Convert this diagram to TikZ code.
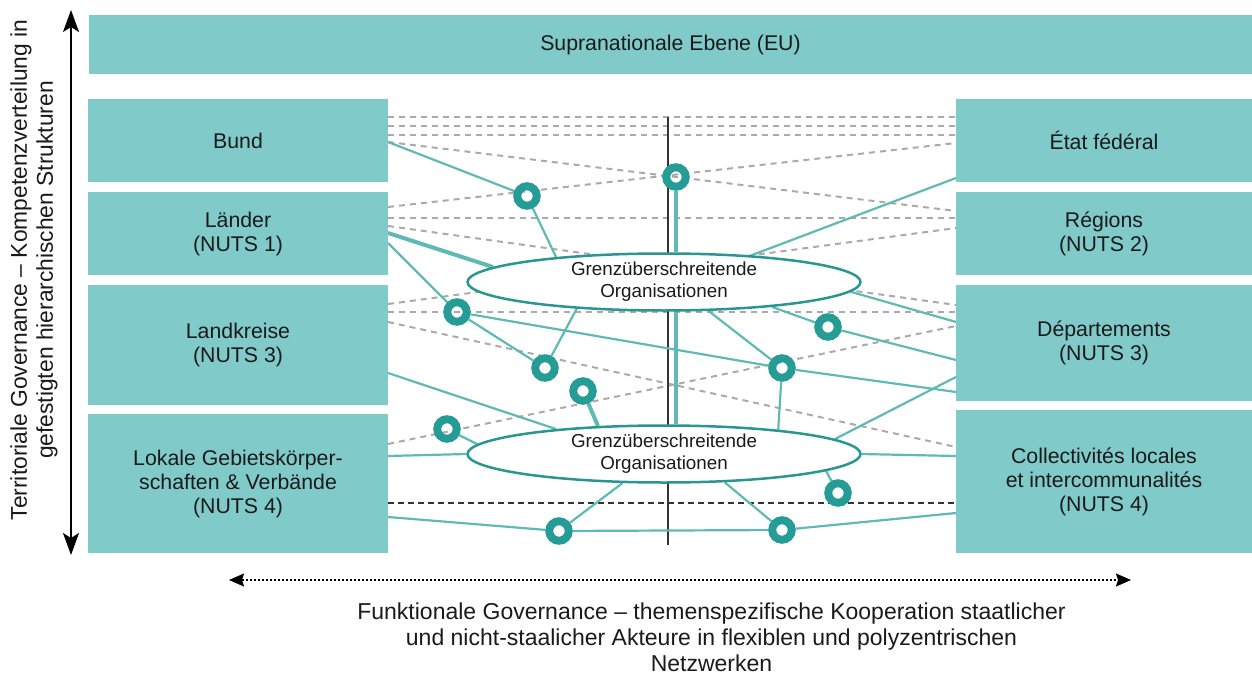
\documentclass[tikz,border=0pt]{standalone}
\usepackage{fontspec}
\setmainfont{Liberation Sans}
\usetikzlibrary{shapes.geometric,arrows.meta}
\pgfdeclarelayer{background}
\pgfsetlayers{background,main}
\definecolor{boxc}{RGB}{128,203,202}
\definecolor{ringc}{RGB}{38,156,151}
\definecolor{linec}{RGB}{95,186,181}
\definecolor{ellc}{RGB}{42,150,146}
\definecolor{dashc}{RGB}{170,170,170}
\definecolor{txtc}{RGB}{26,26,26}
\begin{document}
\begin{tikzpicture}[x=1pt,y=-1pt,
  box/.style={rectangle, fill=boxc, draw=none, inner sep=0pt, align=center, text=txtc, font=\fontsize{21.3}{24}\selectfont},
  org/.style={ellipse, draw=ellc, line width=2.5pt, fill=white, minimum width=393pt, minimum height=57pt, inner sep=0pt, align=center, text=txtc, font=\fontsize{18.8}{22}\selectfont},
  ring/.style={circle, draw=ringc, line width=8pt, minimum size=19.5pt, inner sep=0pt},
  link/.style={draw=linec, line width=2.2pt},
  thicklink/.style={draw=linec, line width=4pt},
  gridline/.style={draw=dashc, line width=2pt, dash pattern=on 6pt off 5pt},
  darkdash/.style={draw=black!80, line width=2pt, dash pattern=on 6pt off 4pt},
  axislabel/.style={align=center, text=txtc, font=\fontsize{22.8}{26}\selectfont},
  tipv/.tip={Stealth[length=22pt,width=16pt,inset=5pt]},
  tiph/.tip={Stealth[length=15pt,width=13pt,inset=2pt]}
]
\useasboundingbox (0,0) rectangle (1252,674);

% boxes
\node[box, minimum width=1163pt, minimum height=59pt] (eu) at (670.5,44.5) {Supranationale Ebene (EU)};
\node[box, minimum width=300pt, minimum height=83pt] (bund) at (238,140.5) {Bund};
\node[box, minimum width=300pt, minimum height=83pt] (laender) at (238,233.5) {Länder\\(NUTS 1)};
\node[box, minimum width=300pt, minimum height=120pt] (kreise) at (238,345) {Landkreise\\(NUTS 3)};
\node[box, minimum width=300pt, minimum height=139pt] (lokal) at (238,483.5) {Lokale Gebietskörper-\\schaften \& Verbände\\(NUTS 4)};
\node[box, minimum width=296pt, minimum height=83pt] (etat) at (1104,140.5) {État fédéral};
\node[box, minimum width=296pt, minimum height=83pt] (regions) at (1104,233.5) {Régions\\(NUTS 2)};
\node[box, minimum width=296pt, minimum height=116pt] (depts) at (1104,343) {Départements\\(NUTS 3)};
\node[box, minimum width=296pt, minimum height=143pt] (coll) at (1104,481.5) {Collectivités locales\\et intercommunalités\\(NUTS 4)};

% edge points
\foreach \yy in {117,126,135,142,143,178,207,211,218,226,228,233,243,304,305,312,322,326,360,373,377,392,444,447,456,503,513,517} {
  \coordinate (L\yy) at (388,\yy);
  \coordinate (R\yy) at (956,\yy);
}
\coordinate (vt) at (668,117);
\coordinate (vb) at (668,545);

% organisations
\node[org] (e1) at (664,282) {Grenzüberschreitende\\Organisationen};
\node[org] (e2) at (664,454) {Grenzüberschreitende\\Organisationen};

% rings
\node[ring] (c1) at (527,196) {};
\node[ring] (ctop) at (676,177) {};
\node[ring] (c3) at (457,312) {};
\node[ring] (c4) at (545,368) {};
\node[ring] (c5) at (583,391) {};
\node[ring] (c6) at (447,429) {};
\node[ring] (c7) at (828,327) {};
\node[ring] (c8) at (782,368) {};
\node[ring] (c9) at (838,493) {};
\node[ring] (c10) at (559,531) {};
\node[ring] (c11) at (782,530) {};

\begin{pgfonlayer}{background}
  % grey dashed lines
  \draw[gridline] (L117) -- (R117);
  \draw[gridline] (L126) -- (R126);
  \draw[gridline] (L135) -- (R135);
  \draw[gridline] (L142) -- (R211);
  \draw[gridline] (L207) -- (R143);
  \draw[gridline] (L218) -- (R218);
  \draw[gridline] (L226) -- (R305);
  \draw[gridline] (L304) -- (R228);
  \draw[gridline] (L312) -- (R312);
  \draw[gridline] (L322) -- (R447);
  \draw[gridline] (L444) -- (R326);
  \draw[darkdash] (L503) -- (R503);
  % vertical line
  \draw[draw=black!80, line width=1.2pt] (vt) -- (vb);
  % teal links
  \draw[link] (L142) -- (c1);
  \draw[link] (c1) -- (e1.167);
  \draw[thicklink] (L233) -- (e1.175);
  \draw[link] (L243) -- (c3);
  \draw[link] (c3) -- (c4);
  \draw[link] (c4) -- (e1.197);
  \draw[link] (c3) -- (c8);
  \draw[link] (c8) -- (R392);
  \draw[thicklink] (ctop) -- (ctop |- e1.north);
  \draw[thicklink] (e1.south -| ctop) -- (e2.north -| ctop);
  \draw[link] (e1.17) -- (R178);
  \draw[link] (e1.357) -- (R322);
  \draw[link] (e1.347) -- (c7);
  \draw[link] (c7) -- (R360);
  \draw[link] (e1.327) -- (c8);
  \draw[link] (L373) -- (e2.167);
  \draw[thicklink] (c5) -- (e2.157);
  \draw[link] (c6) -- (e2.177);
  \draw[link] (L456) -- (e2.west);
  \draw[link] (c8) -- (e2.12);
  \draw[link] (e2.5) -- (R377);
  \draw[link] (e2.east) -- (R456);
  \draw[link] (e2.354) -- (c9);
  \draw[link] (e2.335) -- (c11);
  \draw[link] (c11) -- (R513);
  \draw[link] (c10) -- (c11);
  \draw[link] (L517) -- (c10);
  \draw[link] (c10) -- (e2.215);
\end{pgfonlayer}

% axes
\coordinate (vtop) at (71,10);
\coordinate (vbot) at (71,555);
\draw[line width=1.5pt, tipv-tipv] (vtop) -- (vbot);
\coordinate (hl) at (229,580);
\coordinate (hr) at (1131,580);
\draw[line width=1.5pt, dash pattern=on 2pt off 2pt, tiph-tiph] (hl) -- (hr);

\node[axislabel, rotate=90] (tlabel) at (34,270) {Territoriale Governance – Kompetenzverteilung in\\gefestigten hierarchischen Strukturen};
\node[axislabel, font=\fontsize{23}{26}\selectfont] (flabel) at (711.5,637) {Funktionale Governance – themenspezifische Kooperation staatlicher\\und nicht-staalicher Akteure in flexiblen und polyzentrischen\\Netzwerken};
\end{tikzpicture}
\end{document}
